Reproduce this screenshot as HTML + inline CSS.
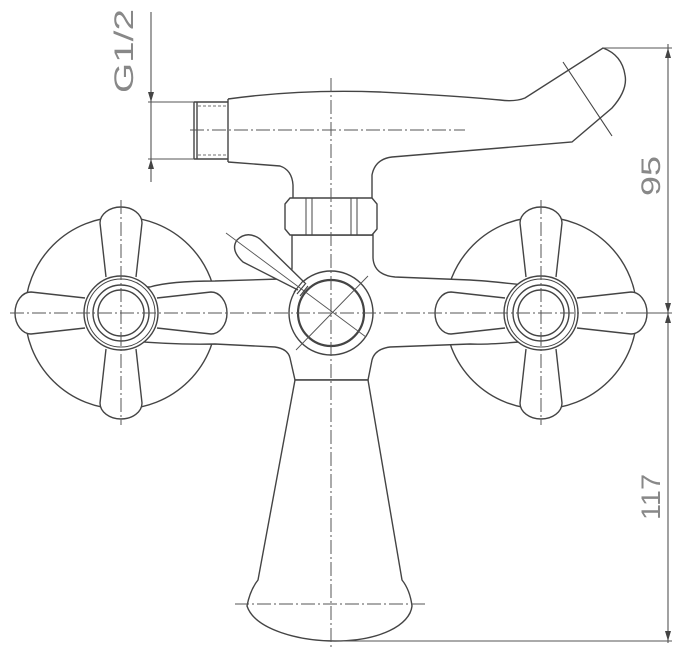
<!DOCTYPE html>
<html><head><meta charset="utf-8"><style>html,body{margin:0;padding:0;background:#fff}svg{display:block}</style></head>
<body>
<svg width="696" height="671" viewBox="0 0 696 671" xmlns="http://www.w3.org/2000/svg">
<defs>
<path id="arm" d="M -15,-36 L -21,-90 A 21 16 0 0 1 21,-90 L 15,-36"/>
</defs>
<g fill="#fff" stroke="#444" stroke-width="1.4">
<!-- escutcheons -->
<circle cx="121" cy="313" r="96"/>
<circle cx="541" cy="313" r="96"/>
<!-- body with bars -->
<path d="M 121,287 L 150,287 Q 170,281 215,281 L 280,279 Q 292,278 292,268 L 292,235 L 373,235 L 373,258 Q 374,275 395,277 L 470,280 Q 490,281 541,287 L 541,340 Q 490,345 470,344 L 390,347 Q 375,349 372,360 L 368,380 L 295,380 L 290,358 Q 288,349 275,347 L 215,344 Q 170,345 121,340 Z"/>
<!-- bell -->
<path d="M 295,380 L 258,580 Q 250,590 247,606 C 255,630 300,641 335,641 C 380,641 410,625 412,606 Q 410,590 402,580 L 368,380 Z"/>
<!-- left handle -->
<g transform="translate(121,313)">
<use href="#arm"/><use href="#arm" transform="rotate(90)"/><use href="#arm" transform="rotate(180)"/><use href="#arm" transform="rotate(270)"/>
<circle r="37"/><circle r="34" stroke-width="1"/><circle r="28"/><circle r="23"/>
</g>
<!-- right handle -->
<g transform="translate(541,313)">
<use href="#arm"/><use href="#arm" transform="rotate(90)"/><use href="#arm" transform="rotate(180)"/><use href="#arm" transform="rotate(270)"/>
<circle r="37"/><circle r="34" stroke-width="1"/><circle r="28"/><circle r="23"/>
</g>
<!-- central knob -->
<circle cx="331" cy="313" r="42"/>
<circle cx="331" cy="313" r="33" stroke-width="2.2"/>
<!-- lever -->
<path d="M 298,290 L 243,262 Q 230,250 237,240 Q 247,230 260,239 L 305,283"/>
<path d="M 294,292 L 303,281 M 297,294 L 306,283 M 300,296 L 308,286" fill="none" stroke-width="1.2"/>
<!-- nut -->
<path d="M 285,204 L 290,198 L 372,198 L 377,204 L 377,229 L 372,235 L 290,235 L 285,229 Z"/>
<path d="M 306,198 L 306,235 M 312,198 L 312,235 M 351,198 L 351,235 M 357,198 L 357,235" fill="none" stroke-width="1"/>
</g>
<g fill="none" stroke="#444" stroke-width="1.4">
<!-- spout -->
<path d="M 228,99 Q 300,89 380,92 Q 460,96 500,100 Q 515,102 525,98 L 603,48 Q 622,55 625,75 Q 628,90 612,108 L 572,142 L 392,157 Q 375,159 372,175 L 372,198"/>
<path d="M 228,162 L 280,166 Q 292,170 293,185 L 293,198"/>
<path d="M 228,99 L 228,162"/>
<!-- nipple -->
<path d="M 194,102 L 228,102 M 194,159 L 228,159 M 194,102 L 194,159 M 197,102 L 197,159"/>
<path d="M 198,106 L 226,106 M 198,155 L 226,155" stroke-dasharray="3 2" stroke-width="0.8"/>
<path d="M 563,62 L 612,136" stroke-width="1.1"/>
</g>
<!-- centerlines -->
<g fill="none" stroke="#555" stroke-width="1" stroke-dasharray="14 3 2 3">
<path d="M 10,313 L 668,313"/>
<path d="M 331,78 L 331,650"/>
<path d="M 121,200 L 121,425"/>
<path d="M 541,200 L 541,425"/>
<path d="M 190,130 L 465,130"/>
<path d="M 235,604 L 428,604"/>
</g>
<g fill="none" stroke="#555" stroke-width="0.9">
<path d="M 226,233 L 366,337"/>
<path d="M 368,276 L 296,350"/>
</g>
<!-- dimensions -->
<g fill="none" stroke="#555" stroke-width="1.1">
<path d="M 151,12 L 151,182 M 148,102 L 194,102 M 148,159 L 194,159"/>
<path d="M 603,48 L 672,48 M 668,44 L 668,643 M 630,313 L 672,313 M 331,641 L 672,641"/>
</g>
<g fill="#444">
<path d="M 151,102 L 148,92 L 154,92 Z"/><path d="M 151,159 L 148,169 L 154,169 Z"/>
<path d="M 668,48 L 665,58 L 671,58 Z"/><path d="M 668,313 L 665,303 L 671,303 Z"/>
<path d="M 668,313 L 665,323 L 671,323 Z"/><path d="M 668,641 L 665,631 L 671,631 Z"/>
</g>
<g fill="#888" font-family="Liberation Sans, sans-serif" font-size="27">
<text transform="translate(133,93) rotate(-90)" textLength="84" lengthAdjust="spacingAndGlyphs">G1/2</text>
<text transform="translate(660,196) rotate(-90)" textLength="40" lengthAdjust="spacingAndGlyphs">95</text>
<text transform="translate(660,520) rotate(-90)" textLength="46" lengthAdjust="spacingAndGlyphs">117</text>
</g>
</svg>
</body></html>
